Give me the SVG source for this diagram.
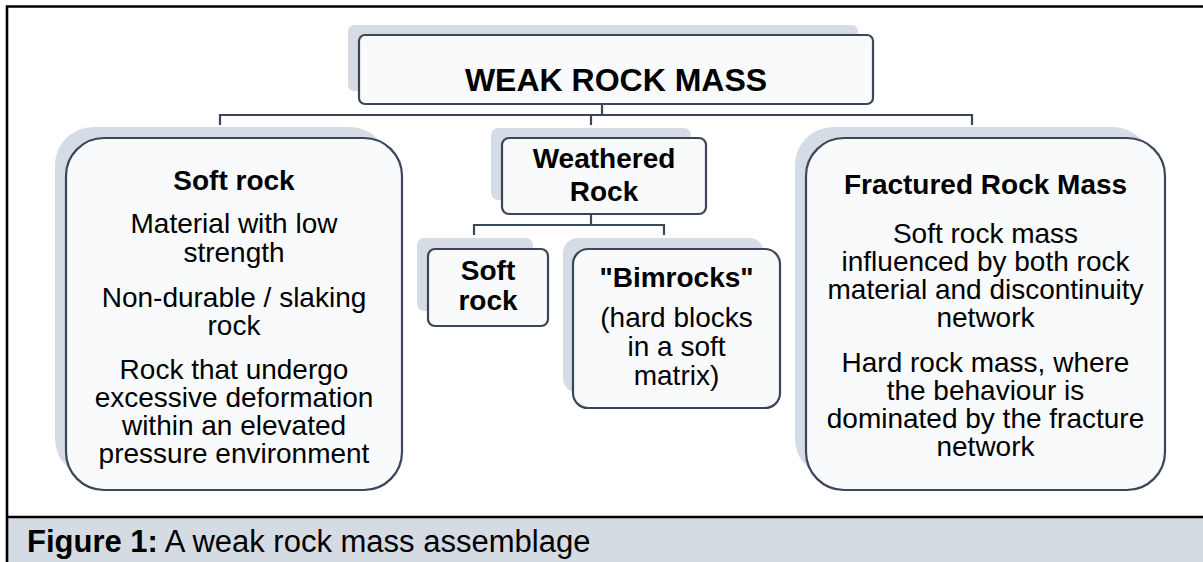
<svg xmlns="http://www.w3.org/2000/svg" width="1203" height="562" viewBox="0 0 1203 562">
<style>
.sh{fill:#d6dce5;stroke:none}
.bx{fill:#f9fafb;stroke:#3b4658;stroke-width:2.2}
.cn{fill:none;stroke:#3b4658;stroke-width:2.2}
.fr{fill:none;stroke:#000;stroke-width:2.6}
text{font-family:"Liberation Sans",Arial,sans-serif;fill:#000;text-anchor:middle}
.b{font-weight:bold;font-size:28px}
.r{font-size:28px}
.t{font-weight:bold;font-size:32px}
.cap{font-size:31px;text-anchor:start}
</style>
<rect x="0" y="0" width="1203" height="562" fill="#fff"/>
<rect x="7" y="517" width="1196" height="45" fill="#d5dbe3"/>
<g id="frame">
<path class="fr" d="M7,562 V6.5 H1203"/>
<path class="fr" d="M7,517 H1203"/>
</g>
<g id="connectors">
<path class="cn" d="M602,104 V115 M220,125 V115 H972 V125 M591,115 V125"/>
<path class="cn" d="M591,214 V225 M474,235 V225 H664 V235"/>
</g>
<g id="n-top">
<rect class="sh" x="348" y="25" width="510" height="66" rx="6"/>
<rect class="bx" x="359" y="35" width="514" height="69" rx="6"/>
<text class="t" x="616" y="91">WEAK ROCK MASS</text>
</g>
<g id="n-softrock">
<rect class="sh" x="55" y="127" width="333" height="350" rx="38"/>
<rect class="bx" x="66" y="138" width="336" height="352" rx="38"/>
<text class="b" x="234" y="190">Soft rock</text>
<text class="r" x="234" y="233">Material with low</text>
<text class="r" x="234" y="262">strength</text>
<text class="r" x="234" y="307">Non-durable / slaking</text>
<text class="r" x="234" y="335">rock</text>
<text class="r" x="234" y="379">Rock that undergo</text>
<text class="r" x="234" y="407">excessive deformation</text>
<text class="r" x="234" y="435">within an elevated</text>
<text class="r" x="234" y="463">pressure environment</text>
</g>
<g id="n-weathered">
<rect class="sh" x="491" y="128" width="200" height="72" rx="7"/>
<rect class="bx" x="502" y="138" width="204" height="76" rx="7"/>
<text class="b" x="604" y="168">Weathered</text>
<text class="b" x="604" y="201">Rock</text>
</g>
<g id="n-softsmall">
<rect class="sh" x="417" y="238" width="116" height="73" rx="7"/>
<rect class="bx" x="428" y="249" width="120" height="77" rx="7"/>
<text class="b" x="488" y="280">Soft</text>
<text class="b" x="488" y="310">rock</text>
</g>
<g id="n-bimrocks">
<rect class="sh" x="563" y="238" width="201" height="155" rx="15"/>
<rect class="bx" x="573" y="249" width="207" height="159" rx="15"/>
<text class="b" x="676.5" y="287">"Bimrocks"</text>
<text class="r" x="676.5" y="327">(hard blocks</text>
<text class="r" x="676.5" y="356">in a soft</text>
<text class="r" x="676.5" y="385">matrix)</text>
</g>
<g id="n-fractured">
<rect class="sh" x="795" y="127" width="356" height="350" rx="38"/>
<rect class="bx" x="806" y="138" width="359" height="352" rx="38"/>
<text class="b" x="985.5" y="194">Fractured Rock Mass</text>
<text class="r" x="985.5" y="243">Soft rock mass</text>
<text class="r" x="985.5" y="271">influenced by both rock</text>
<text class="r" x="985.5" y="299">material and discontinuity</text>
<text class="r" x="985.5" y="327">network</text>
<text class="r" x="985.5" y="372">Hard rock mass, where</text>
<text class="r" x="985.5" y="400">the behaviour is</text>
<text class="r" x="985.5" y="428">dominated by the fracture</text>
<text class="r" x="985.5" y="456">network</text>
</g>
<text class="cap" x="27" y="552"><tspan font-weight="bold">Figure 1:</tspan> A weak rock mass assemblage</text>
</svg>
